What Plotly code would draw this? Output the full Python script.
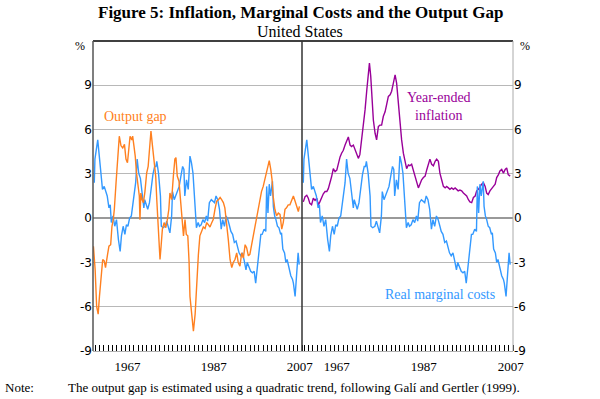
import plotly.graph_objects as go

# ---------------- data ----------------
rmc_years = [1959.8, 1959.95, 1960.6, 1960.9, 1961.3, 1961.7, 1962.1, 1962.5, 1962.8, 1963.2, 1963.5, 1963.75,
             1964.15, 1964.55, 1964.95, 1965.4, 1965.8, 1966.1, 1966.5, 1966.9, 1967.25, 1967.6, 1968.0, 1968.4,
             1968.6, 1969.0, 1969.4, 1969.75, 1970.1, 1970.5, 1970.7, 1971.0, 1971.3, 1971.5, 1971.8, 1972.2,
             1972.6, 1973.0, 1973.4, 1973.8, 1974.1, 1974.3, 1974.7, 1975.15, 1975.35, 1975.75, 1976.25, 1976.6,
             1977.0, 1977.35, 1977.75, 1977.95, 1978.35, 1978.75, 1979.15, 1979.5, 1979.9, 1980.3, 1980.6, 1980.8,
             1981.2, 1981.6, 1982.0, 1982.35, 1982.7, 1983.1, 1983.5, 1983.9, 1984.2, 1984.6, 1985.0, 1985.4,
             1985.8, 1986.1, 1986.5, 1986.95, 1987.35, 1987.7, 1988.05, 1988.45, 1988.85, 1989.25, 1989.6, 1990.0,
             1990.4, 1990.8, 1991.2, 1991.5, 1991.9, 1992.3, 1992.7, 1993.1, 1993.4, 1993.8, 1994.2, 1994.6,
             1995.0, 1995.3, 1995.7, 1996.1, 1996.5, 1996.9, 1997.25, 1997.65, 1998.05, 1998.45, 1998.75, 1999.2,
             1999.6, 1999.8, 2000.1, 2000.4, 2000.7, 2001.15, 2001.35, 2001.65, 2001.95, 2002.3, 2002.65, 2003.05,
             2003.25, 2003.55, 2003.95, 2004.25, 2004.55, 2004.95, 2005.4, 2005.8, 2006.0, 2006.4, 2006.7, 2006.9,
             2007.1, 2007.35]
rmc_values = [2.4, 4.0, 5.3, 4.4, 2.85, 1.95, 2.15, 1.7, 1.5, 0.7, 0.9, -0.3,
              0.15, -0.55, -0.1, -1.45, -2.25, -1.2, -0.55, -1.1, -0.45, -0.55, 0.0, 0.15,
              0.6, 1.7, 2.4, 4.0, 3.05, 2.7, 2.15, 1.5, 0.7, 1.25, 0.9, 0.6,
              1.05, 2.15, 2.95, 3.5, 3.5, 3.85, 3.05, 1.5, -0.55, -0.65, -0.55, -0.2,
              -0.55, -1.0, 0.15, 1.8, 1.25, 1.6, 1.95, 2.15, 2.85, 3.5, 3.3, 1.5,
              2.6, 1.95, 4.2, 3.75, 3.05, 1.25, -0.65, -0.3, -0.55, -0.45, -0.1, -0.3,
              0.15, -0.2, 1.05, 1.25, 1.15, 1.05, 1.5, 1.25, 0.6, -0.75, -0.1, -0.55,
              0.15, -0.1, -0.55, -0.9, -1.1, -1.65, -1.55, -2.1, -2.35, -2.55, -2.35, -2.9,
              -3.5, -3.0, -3.35, -3.6, -3.7, -3.6, -4.4, -3.25, -1.9, -1.1, -1.1, -0.75,
              -0.9, 2.15, 0.35, 2.3, 1.5, 2.5, 0.8, 0.15, -0.1, -0.55, -0.65, -1.1,
              -1.0, -2.1, -2.35, -3.0, -2.8, -3.35, -3.9, -4.15, -4.4, -5.3, -3.9, -2.8,
              -2.35, -3.15]

gap_years = [1959.6, 1960.0, 1960.35, 1960.7, 1961.0, 1961.35, 1961.75, 1962.1, 1962.4, 1962.8, 1963.2, 1963.6,
             1963.9, 1964.2, 1964.45, 1964.85, 1965.2, 1965.6, 1966.0, 1966.4, 1966.8, 1967.15, 1967.5, 1967.8,
             1968.1, 1968.5, 1968.7, 1969.0, 1969.3, 1969.6, 1969.95, 1970.25, 1970.4, 1970.6, 1970.9, 1971.2,
             1971.55, 1971.95, 1972.3, 1972.7, 1972.95, 1973.3, 1973.5, 1973.7, 1974.05, 1974.3, 1974.5, 1974.8,
             1975.05, 1975.3, 1975.6, 1976.0, 1976.4, 1976.75, 1977.1, 1977.35, 1977.75, 1978.15, 1978.5, 1978.75,
             1979.05, 1979.45, 1979.85, 1980.2, 1980.5, 1980.85, 1981.15, 1981.5, 1981.8, 1982.0, 1982.4, 1982.8,
             1983.2, 1983.55, 1983.95, 1984.3, 1984.7, 1985.1, 1985.5, 1985.9, 1986.3, 1986.65, 1987.0, 1987.4,
             1987.8, 1988.2, 1988.6, 1989.0, 1989.35, 1989.75, 1990.1, 1990.5, 1990.9, 1991.3, 1991.7, 1992.05,
             1992.45, 1992.85, 1993.2, 1993.6, 1994.0, 1994.4, 1994.8, 1995.15, 1995.55, 1995.9, 1996.3, 1996.7,
             1997.1, 1997.5, 1997.85, 1998.25, 1998.6, 1999.0, 1999.4, 1999.8, 2000.4, 2000.75, 2001.05, 2001.3,
             2001.7, 2002.1, 2002.5, 2002.9, 2003.3, 2003.65, 2004.05, 2004.4, 2004.8, 2005.2, 2005.6, 2006.0,
             2006.4, 2006.75, 2007.15, 2007.4]
gap_values = [-1.9, -3.5, -6.0, -6.5, -5.3, -3.9, -2.8, -2.9, -3.35, -2.6, -1.9, -1.8,
              -0.55, -0.1, 0.6, 2.4, 4.2, 5.55, 4.9, 4.75, 5.0, 4.0, 3.75, 4.65,
              5.55, 5.3, 5.55, 4.9, 4.2, 3.05, 1.95, 1.5, -0.1, 1.7, 1.25, 1.05,
              1.8, 3.05, 3.5, 5.1, 5.9, 4.9, 4.4, 3.75, 2.85, 1.25, 0.15, -1.65,
              -2.8, -1.9, -0.75, -0.3, -0.65, -0.1, 0.6, 1.7, 1.25, 2.85, 4.0, 4.1,
              2.85, 2.5, 1.25, -0.1, -1.2, -0.1, -1.1, -1.2, -3.0, -5.3, -6.65, -7.65,
              -6.5, -4.4, -2.5, -1.2, -0.9, -0.6, -0.7, -0.3, -0.45, -0.6, -0.35, -0.1,
              0.6, 1.15, 1.25, 1.4, 1.25, 1.05, 0.7, -0.3, -1.45, -2.8, -3.35, -3.0,
              -2.8, -2.35, -3.0, -3.25, -2.35, -2.7, -1.8, -2.0, -2.55, -2.45, -1.8, -1.2,
              -0.75, 0.15, 0.6, 1.25, 1.8, 2.15, 2.7, 3.3, 3.9, 3.3, 2.6, 1.5,
              0.6, 0.15, 0.35, 0.25, -0.75, -0.3, 0.6, 0.7, 0.9, 0.9, 1.25, 1.5,
              1.15, 0.8, 0.45, 0.8]

infl_years = [1959.8, 1960.2, 1960.6, 1960.95, 1961.3, 1961.7, 1962.1, 1962.5, 1962.9, 1963.25, 1963.6, 1964.0,
              1964.4, 1964.8, 1965.2, 1965.55, 1965.9, 1966.3, 1966.7, 1967.1, 1967.5, 1967.85, 1968.25, 1968.6,
              1969.0, 1969.4, 1969.8, 1970.15, 1970.55, 1970.9, 1971.3, 1971.7, 1972.05, 1972.45, 1972.8, 1973.2,
              1973.6, 1974.0, 1974.4, 1974.75, 1975.0, 1975.3, 1975.6, 1975.9, 1976.3, 1976.65, 1977.05, 1977.4,
              1977.8, 1978.2, 1978.6, 1978.95, 1979.35, 1979.75, 1980.1, 1980.5, 1980.9, 1981.25, 1981.65, 1982.0,
              1982.4, 1982.8, 1983.2, 1983.55, 1983.95, 1984.3, 1984.7, 1985.1, 1985.5, 1985.9, 1986.25, 1986.6,
              1987.0, 1987.4, 1987.8, 1988.2, 1988.55, 1988.9, 1989.3, 1989.7, 1990.1, 1990.45, 1990.85, 1991.2,
              1991.6, 1992.0, 1992.4, 1992.75, 1993.15, 1993.5, 1993.9, 1994.3, 1994.7, 1995.1, 1995.4, 1995.8,
              1996.2, 1996.6, 1997.0, 1997.35, 1997.75, 1998.1, 1998.5, 1998.9, 1999.3, 1999.65, 2000.05, 2000.4,
              2000.8, 2001.2, 2001.6, 2001.95, 2002.3, 2002.7, 2003.1, 2003.5, 2003.9, 2004.25, 2004.65, 2005.0,
              2005.4, 2005.8, 2006.2, 2006.55, 2006.9, 2007.35]
infl_values = [1.1, 1.45, 1.55, 1.35, 1.0, 0.9, 1.35, 1.2, 1.35, 0.9, 1.1, 1.45,
               1.65, 1.8, 1.8, 2.0, 2.35, 2.8, 3.35, 3.15, 3.25, 3.7, 4.15, 4.4,
               4.6, 4.95, 5.2, 5.5, 4.95, 4.85, 4.95, 4.6, 4.4, 4.05, 4.3, 5.3,
               6.2, 7.35, 8.7, 10.05, 10.5, 9.6, 8.0, 6.65, 5.75, 5.3, 6.2, 6.3,
               6.3, 6.9, 7.2, 7.65, 8.25, 8.35, 8.6, 9.15, 9.7, 9.15, 7.8, 6.2,
               5.3, 4.4, 3.7, 3.35, 3.6, 3.55, 3.65, 3.2, 2.95, 2.4, 2.05, 2.3,
               2.6, 2.75, 2.85, 3.3, 3.75, 4.0, 3.65, 3.55, 3.85, 4.0, 3.85, 3.05,
               2.6, 2.15, 2.05, 2.15, 2.05, 1.95, 2.05, 1.95, 2.05, 1.95, 1.85, 1.9,
               1.85, 1.7, 1.6, 1.5, 1.25, 1.1, 1.05, 1.4, 1.5, 1.85, 1.95, 2.15,
               2.3, 2.4, 2.15, 1.7, 1.6, 1.85, 2.05, 2.15, 2.3, 2.75, 2.95, 3.2,
               3.3, 3.05, 3.3, 3.4, 2.95, 2.85]

year_tick_vals = [1967.5, 1987.5, 2007.5]
year_tick_text = ["1967", "1987", "2007"]
y_tick_vals = [-9, -6, -3, 0, 3, 6, 9]
y_tick_text = ["-9", "-6", "-3", "0", "3", "6", "9"]

# ---------------- style ----------------
FONT = "Liberation Serif"
ORANGE = "#FF8020"
BLUE = "#3399FF"
PURPLE = "#990099"
SPLIT = (302 - 93) / 420.0

fig = go.Figure()
fig.add_trace(go.Scatter(x=rmc_years, y=rmc_values, xaxis="x", yaxis="y", mode="lines",
                         line=dict(color=BLUE, width=1.4), hoverinfo="skip"))
fig.add_trace(go.Scatter(x=gap_years, y=gap_values, xaxis="x", yaxis="y", mode="lines",
                         line=dict(color=ORANGE, width=1.4), hoverinfo="skip"))
fig.add_trace(go.Scatter(x=infl_years, y=infl_values, xaxis="x2", yaxis="y2", mode="lines",
                         line=dict(color=PURPLE, width=1.4), hoverinfo="skip"))
fig.add_trace(go.Scatter(x=rmc_years, y=rmc_values, xaxis="x2", yaxis="y2", mode="lines",
                         line=dict(color=BLUE, width=1.4), hoverinfo="skip"))

xtickfont = dict(family=FONT, size=13, color="black")
ytickfont = dict(family="DejaVu Sans", size=12, color="black")
xcommon = dict(range=[1959.5, 2008.0], tickmode="array", tickvals=year_tick_vals, ticktext=year_tick_text,
               ticks="", showgrid=False, zeroline=False, showline=True, linecolor="#b0b0b0", linewidth=1,
               tickfont=xtickfont, fixedrange=True, ticklabelstandoff=3,
               minor=dict(tickmode="linear", tick0=1960, dtick=1, ticks="inside", ticklen=6,
                          tickcolor="black", tickwidth=1, showgrid=False))
ycommon = dict(range=[-9, 12], tickmode="array", tickvals=y_tick_vals, ticktext=y_tick_text, ticks="",
               showgrid=True, gridcolor="#b8b8b8", gridwidth=1, zeroline=True, zerolinecolor="#999999",
               zerolinewidth=1.5, showline=False, tickfont=ytickfont, fixedrange=True, domain=[0, 1])

fig.update_layout(
    width=600, height=399,
    margin=dict(l=93, r=87, t=41, b=48),
    paper_bgcolor="white", plot_bgcolor="white",
    showlegend=False,
    font=dict(family=FONT, color="black"),
    xaxis=dict(domain=[0, SPLIT], anchor="y", **xcommon),
    xaxis2=dict(domain=[SPLIT, 1], anchor="y2", **xcommon),
    yaxis=dict(anchor="x", side="left", **ycommon),
    yaxis2=dict(anchor="x2", side="right", **ycommon),
)

# frame lines
fig.add_shape(type="line", xref="paper", yref="paper", x0=0, x1=1, y0=1, y1=1, line=dict(color="black", width=1.5))
fig.add_shape(type="line", xref="paper", yref="paper", x0=0, x1=0, y0=0, y1=1, line=dict(color="#555555", width=1.5))
fig.add_shape(type="line", xref="paper", yref="paper", x0=SPLIT, x1=SPLIT, y0=0, y1=1, line=dict(color="#333333", width=1.5))
fig.add_shape(type="line", xref="paper", yref="paper", x0=1, x1=1, y0=0, y1=1, line=dict(color="#aaaaaa", width=1))

def px_x(x):
    return (x - 93) / 420.0

def px_y(y):
    return (351 - y) / 310.0

ann = [
    dict(text="<b>Figure 5: Inflation, Marginal Costs and the Output Gap</b>", x=px_x(300), y=px_y(12),
         font=dict(size=17), xanchor="center", yanchor="middle"),
    dict(text="United States", x=px_x(300), y=px_y(32), font=dict(size=16), xanchor="center", yanchor="middle"),
    dict(text="%", x=px_x(80), y=px_y(46), font=dict(size=12), xanchor="center", yanchor="middle"),
    dict(text="%", x=px_x(525), y=px_y(46), font=dict(size=12), xanchor="center", yanchor="middle"),
    dict(text="Output gap", x=px_x(135), y=px_y(117), font=dict(size=14, color=ORANGE), xanchor="center", yanchor="middle"),
    dict(text="Year-ended<br>inflation", x=px_x(439), y=px_y(106), font=dict(size=14, color=PURPLE),
         xanchor="center", yanchor="middle"),
    dict(text="Real marginal costs", x=px_x(440), y=px_y(294), font=dict(size=14, color=BLUE), xanchor="center", yanchor="middle"),
    dict(text="Note:", x=px_x(3), y=px_y(387), font=dict(size=13), xanchor="left", yanchor="middle"),
    dict(text="The output gap is estimated using a quadratic trend, following Galí and Gertler (1999).",
         x=px_x(66), y=px_y(387), font=dict(size=13), xanchor="left", yanchor="middle"),
]
for a in ann:
    fig.add_annotation(xref="paper", yref="paper", showarrow=False, **a)

fig.write_html("out.html", config={"displayModeBar": False},
               post_script="document.body.style.margin='0';document.body.style.padding='0';")
